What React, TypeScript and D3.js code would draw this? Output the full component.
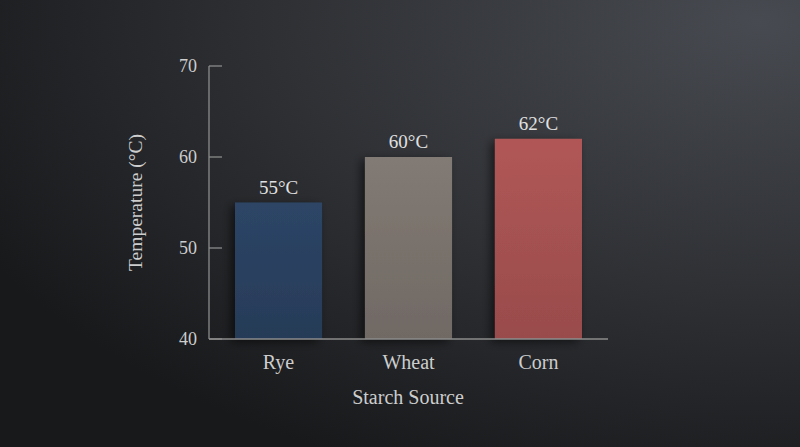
import React from 'react';
import * as d3 from 'd3';

const sources = ['Rye', 'Wheat', 'Corn'];
const temps = [55, 60, 62];
const barColors = ['#2b4262', '#7d756f', '#aa5353'];
const yTicks = [40, 50, 60, 70];

const W = 800;
const H = 447;
const font = '"Liberation Serif", "DejaVu Serif", serif';

const App: React.FC = () => {
  const x = d3.scaleBand<string>()
    .domain(sources)
    .range([209, 608])
    .paddingInner(0.33)
    .paddingOuter(0.2);

  const y = d3.scaleLinear()
    .domain([40, 70])
    .range([339, 66]);

  const rows = sources.map((s, i) => ({ source: s, temp: temps[i], color: barColors[i] }));

  return (
    <svg width={W} height={H} style={{ display: 'block', position: 'absolute', left: 0, top: 0 }}>
      <defs>
        <radialGradient id="bg" cx="0.95" cy="0.05" r="1.1" gradientUnits="objectBoundingBox">
          <stop offset="0" stopColor="#474a50" />
          <stop offset="0.55" stopColor="#2e3034" />
          <stop offset="1" stopColor="#18191b" />
        </radialGradient>
        {rows.map((d, i) => (
          <linearGradient key={i} id={`bar${i}`} x1="0" y1="0" x2="0" y2="1">
            <stop offset="0" stopColor={d3.color(d.color)!.brighter(0.12).toString()} />
            <stop offset="1" stopColor={d3.color(d.color)!.darker(0.3).toString()} />
          </linearGradient>
        ))}
        <filter id="shadow" x="-30%" y="-10%" width="160%" height="130%">
          <feDropShadow dx="-4" dy="3" stdDeviation="5" floodColor="#000" floodOpacity="0.55" />
        </filter>
      </defs>
      <rect x={0} y={0} width={W} height={H} fill="url(#bg)" />

      {/* y axis */}
      <line x1={209} x2={209} y1={y(70)} y2={y(40)} stroke="#8c8c8c" strokeWidth={1.3} />
      {yTicks.map(t => (
        <g key={t}>
          <line x1={209} x2={222} y1={y(t)} y2={y(t)} stroke="#8c8c8c" strokeWidth={1.3} />
          <text x={197} y={y(t)} dy="0.35em" textAnchor="end" fill="#cdcdcd"
            fontFamily={font} fontSize={18}>{t}</text>
        </g>
      ))}
      <text transform={`translate(142, ${y(55)}) rotate(-90)`} textAnchor="middle"
        fill="#cdcdcd" fontFamily={font} fontSize={19.5}>Temperature (°C)</text>

      {/* bars */}
      {rows.map((d, i) => (
        <g key={d.source}>
          <rect x={x(d.source)} y={y(d.temp)} width={x.bandwidth()} height={y(40) - y(d.temp)}
            fill={`url(#bar${i})`} filter="url(#shadow)" />
          <text x={x(d.source)! + x.bandwidth() / 2} y={y(d.temp) - 9} textAnchor="middle"
            fill="#e0e0e0" fontFamily={font} fontSize={19}>{d.temp}°C</text>
          <text x={x(d.source)! + x.bandwidth() / 2} y={369} textAnchor="middle"
            fill="#cdcdcd" fontFamily={font} fontSize={20}>{d.source}</text>
        </g>
      ))}

      {/* x axis */}
      <line x1={209} x2={608} y1={y(40)} y2={y(40)} stroke="#8c8c8c" strokeWidth={1.3} />
      <text x={408} y={404} textAnchor="middle" fill="#cdcdcd" fontFamily={font} fontSize={20}>
        Starch Source
      </text>
    </svg>
  );
};

export default App;
